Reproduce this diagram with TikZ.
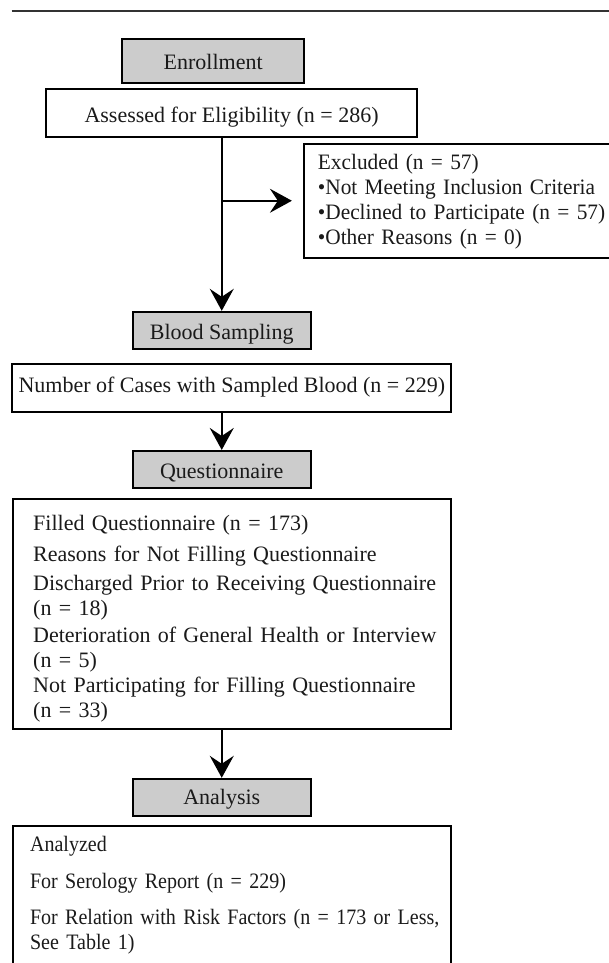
\documentclass[tikz,border=0pt]{standalone}
\usepackage{fontspec}
\setmainfont{Liberation Serif}
\newfontfamily\exclfont{Liberation Serif}[FakeStretch=0.97]
\newfontfamily\narrowfont{Liberation Serif}[FakeStretch=0.91]
\usetikzlibrary{arrows.meta}
\definecolor{boxgray}{HTML}{CCCCCC}
\definecolor{ink}{HTML}{1A1A1A}
\begin{document}
\begin{tikzpicture}[x=1pt,y=-1pt,
  box/.style={draw=black, line width=2pt, inner sep=0pt},
  graybox/.style={box, fill=boxgray, minimum width=177.9pt, minimum height=37.4pt, text height=18pt, text depth=0pt},
  whitebox/.style={box, fill=white},
  txt/.style={font=\fontsize{22}{25}\selectfont, text=ink},
  para/.style={txt, anchor=base west, align=left, inner sep=0pt, text width=#1},
  flow/.style={line width=2pt, -{Stealth[length=22pt,width=24pt,inset=8pt]}},
  toprule/.style={line width=1.3pt, draw=black!80}]
\useasboundingbox (0,0) rectangle (609,963);
\coordinate (ruleL) at (11.5,11);
\coordinate (ruleR) at (620,11);
\draw[toprule] (ruleL) -- (ruleR);

\node[graybox, txt, minimum width=181.7pt, minimum height=43.4pt] (enroll) at (213.2,61) {Enrollment};
\node[whitebox, txt, minimum width=371.7pt, minimum height=47.4pt, text height=18pt, text depth=0pt] (assess) at (231.6,113) {Assessed for Eligibility (n = 286)};

\node[whitebox, minimum width=321.5pt, minimum height=113.5pt] (excl) at (464.25,200.75) {};
\node[para=300pt, font=\exclfont\fontsize{22}{25.3}\selectfont] (excltext) at (317.7,169) {Excluded (n = 57)\\•Not Meeting Inclusion Criteria\\•Declined to Participate (n = 57)\\•Other Reasons (n = 0)};

\node[graybox, txt] (blood) at (221.75,330.5) {Blood Sampling};
\node[whitebox, txt, minimum width=438.9pt, minimum height=47.7pt, text height=18pt, text depth=9pt] (number) at (231.85,387.85) {Number of Cases with Sampled Blood (n = 229)};

\node[graybox, txt] (quest) at (221.75,469.65) {Questionnaire};
\node[whitebox, minimum width=438.5pt, minimum height=230pt] (filled) at (232.05,614.3) {};
\node[para=430pt] (filledtext) at (33,530.7) {Filled Questionnaire (n = 173)\\[6pt]
Reasons for Not Filling Questionnaire\\[3.3pt]
Discharged Prior to Receiving Questionnaire\\
(n = 18)\\[2pt]
Deterioration of General Health or Interview\\
(n = 5)\\
Not Participating for Filling Questionnaire\\
(n = 33)};

\node[graybox, txt, text height=14pt] (analysis) at (221.75,797.5) {Analysis};
\node[whitebox, minimum width=438.5pt, minimum height=160pt] (analyzed) at (232.05,906) {};
\node[para=440pt, font=\narrowfont\fontsize{22}{24.3}\selectfont] (analyzedtext) at (29.9,851.7) {Analyzed\\[12.3pt]
For Serology Report (n = 229)\\[12.3pt]
For Relation with Risk Factors (n = 173 or Less,\\
See Table 1)};

\coordinate (split) at (blood.north |- excl.west);
\draw[flow] (assess.south -| blood.north) -- (blood.north);
\draw[flow, shorten >=10.6pt] (split) -- (excl.west);
\draw[flow] (number.south -| quest.north) -- (quest.north);
\draw[flow] (filled.south -| analysis.north) -- (analysis.north);
\end{tikzpicture}
\end{document}
